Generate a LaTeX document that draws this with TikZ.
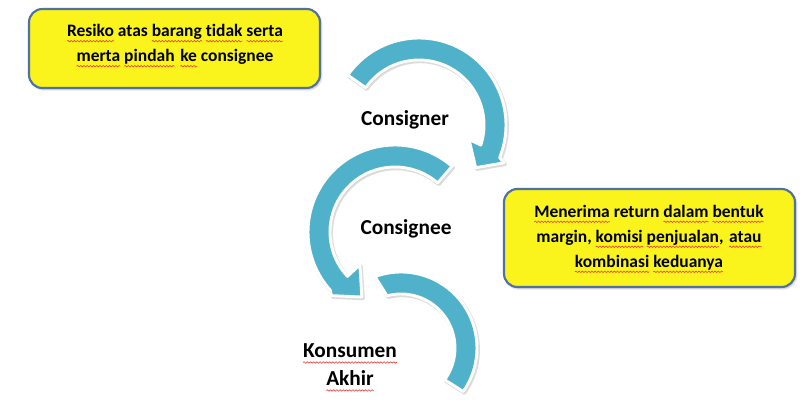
\documentclass[tikz,border=0pt]{standalone}
\usepackage{fontspec}
\setmainfont{Carlito}[Ligatures=NoCommon]
\usetikzlibrary{decorations.pathmorphing}
\definecolor{arrowc}{RGB}{80,177,202}
\definecolor{boxfill}{RGB}{250,244,28}
\definecolor{boxborder}{RGB}{79,113,163}
\definecolor{spellred}{RGB}{235,60,60}
\newlength\splwd
\newcommand\spl[1]{\settowidth\splwd{#1}\rlap{\tikz[baseline=0pt]{\useasboundingbox (0pt,0pt);
  \draw[spellred, line width=0.45pt, decorate, decoration={snake, amplitude=0.55pt, segment length=2.4pt}] (0pt,-3.4pt) -- (\splwd,-3.4pt);}}#1}
\tikzset{
  carrow/.style={fill=arrowc, draw=white, line width=2.2pt, line join=round,
    preaction={draw=black!30, fill=black!30, line width=2.6pt, line join=round, opacity=0.45,
      transform canvas={shift={(0.9pt,-1.1pt)}}}},
  ybox/.style={rectangle, rounded corners=10pt, fill=boxfill, draw=boxborder, line width=1.6pt,
    minimum width=218.25pt, inner sep=0pt,
    preaction={draw=black!25, fill=black!25, opacity=0.4, transform canvas={shift={(1pt,-1.2pt)}}}},
  boxtxt/.style={font=\fontsize{13.1}{18.75}\selectfont\bfseries, align=center, inner sep=0pt},
  lbl/.style={font=\fontsize{16}{21}\selectfont\bfseries, align=center, inner sep=0pt}
}
\begin{document}
\begin{tikzpicture}[x=0.75pt,y=0.75pt]
\path[use as bounding box, fill=white] (0,0) rectangle (804,405);

% arrow 1 (around Consigner)
\begin{scope}[shift={(419,280)}]
\path[carrow] (145:87) arc[start angle=145, end angle=-22, radius=87]
  -- (-24:93) -- (-37:71) -- (-16:52) -- (-18:65)
  arc[start angle=-18, end angle=145, radius=65] -- cycle;
\end{scope}
% arrow 2 (around Consignee)
\begin{scope}[shift={(395,173)}]
\path[carrow] (49:87) arc[start angle=49, end angle=222, radius=87]
  -- (225:90) -- (243:73) -- (223:48) -- (223:65)
  arc[start angle=223, end angle=49, radius=65] -- cycle;
\end{scope}
% arrow 3 (bottom)
\begin{scope}[shift={(401,57)}]
\path[carrow] (110:76) arc[start angle=110, end angle=-35, radius=76]
  -- (-36:54) arc[start angle=-36, end angle=105, radius=54] -- cycle;
\end{scope}

% boxes
\node[ybox, minimum height=59.25pt] (box1) at (174.5,356.5) {};
\node[boxtxt] (t1) at (175,360.5) {\spl{Resiko} atas \spl{barang} \spl{tidak} \spl{serta}\\ \spl{merta} \spl{pindah}\hspace{0.1em} \spl{ke} consignee};
\node[ybox, minimum height=73.5pt] (box2) at (649.5,167) {};
\node[boxtxt] (t2) at (649,167.5) {\spl{Menerima} return \spl{dalam} \spl{bentuk}\\ margin, \spl{komisi} \spl{penjualan},\hspace{0.1em} \spl{atau}\\ \spl{kombinasi} \spl{keduanya}};

% labels
\node[lbl] (consigner) at (405,285) {Consigner};
\node[lbl] (consignee) at (406,176) {Consignee};
\node[lbl] (konsumen) at (350,40) {\spl{Konsumen}\\ \spl{Akhir}};
\end{tikzpicture}
\end{document}
